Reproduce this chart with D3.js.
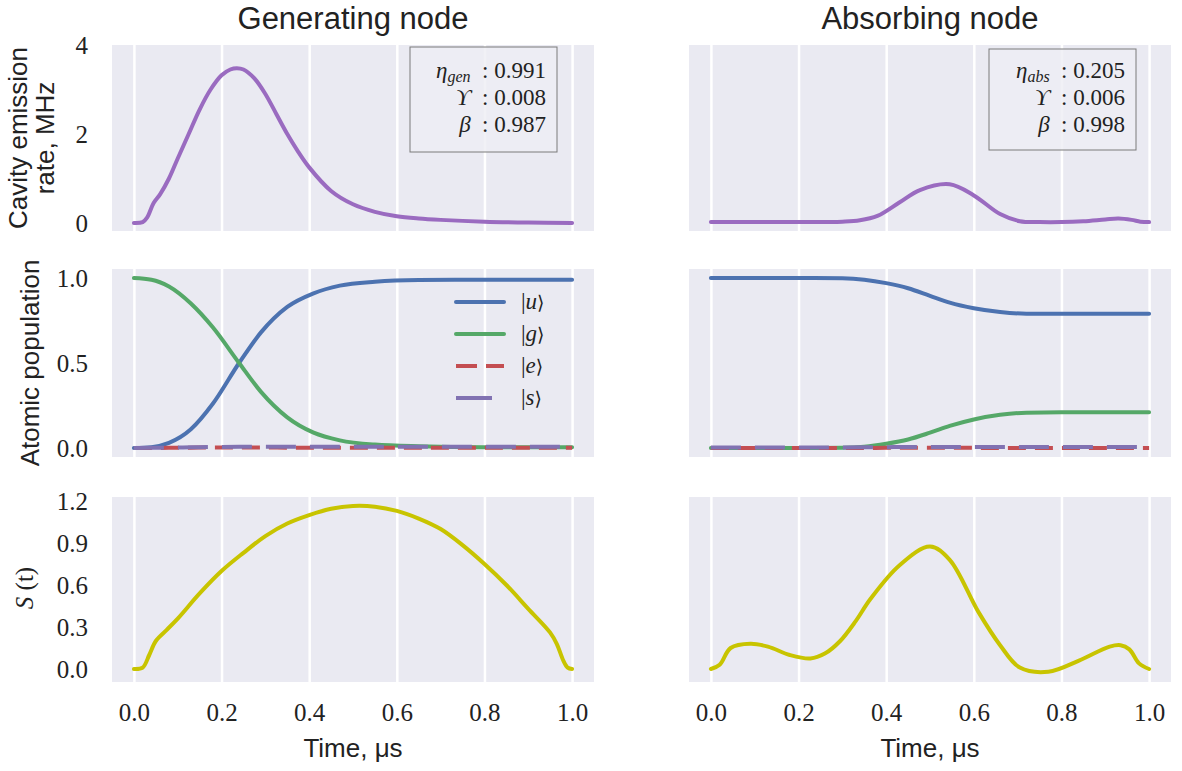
<!DOCTYPE html>
<html><head><meta charset="utf-8">
<script src="https://cdn.jsdelivr.net/npm/d3@7"></script>
<style>
body{margin:0;background:#fff;}
svg{display:block;}
</style></head><body>
<svg id="c" width="1182" height="771"></svg>
<script>
// ---------- data ----------
const xTicks = [0, 0.2, 0.4, 0.6, 0.8, 1.0];
const emisTicks = [0, 2, 4];
const popTicks = [0, 0.5, 1.0];
const sTicks = [0, 0.3, 0.6, 0.9, 1.2];

const genEmisT = [0, 0.02, 0.03, 0.045, 0.06, 0.08, 0.1, 0.125, 0.15, 0.175, 0.2, 0.22, 0.235, 0.25, 0.275, 0.3, 0.325, 0.35, 0.375, 0.4, 0.45, 0.5, 0.55, 0.6, 0.65, 0.7, 0.8, 0.9, 1.0];
const genEmisV = [0, 0.02, 0.12, 0.45, 0.65, 1.0, 1.45, 2.0, 2.55, 3.0, 3.32, 3.45, 3.48, 3.45, 3.25, 2.9, 2.45, 2.0, 1.6, 1.25, 0.72, 0.42, 0.25, 0.15, 0.1, 0.07, 0.03, 0.01, 0.0];

const absEmisT = [0, 0.1, 0.2, 0.3, 0.34, 0.38, 0.43, 0.477, 0.545, 0.6, 0.66, 0.705, 0.75, 0.8, 0.85, 0.9, 0.93, 0.96, 0.98, 1.0];
const absEmisV = [0.02, 0.02, 0.02, 0.03, 0.06, 0.16, 0.46, 0.74, 0.87, 0.62, 0.2, 0.04, 0.02, 0.02, 0.04, 0.08, 0.1, 0.07, 0.03, 0.02];

const genPopT = [0, 0.04, 0.08, 0.13, 0.18, 0.24, 0.29, 0.35, 0.41, 0.47, 0.55, 0.65, 0.8, 1.0];
const genU = [0, 0.005, 0.03, 0.11, 0.26, 0.5, 0.68, 0.83, 0.91, 0.955, 0.978, 0.988, 0.99, 0.99];
const genG = [1.0, 0.99, 0.95, 0.85, 0.71, 0.5, 0.33, 0.18, 0.09, 0.045, 0.02, 0.01, 0.005, 0.005];
const genE = [0, 0, 0.001, 0.002, 0.003, 0.003, 0.003, 0.002, 0.002, 0.001, 0.001, 0.001, 0.001, 0.001];
const genS = [0, 0.001, 0.002, 0.004, 0.006, 0.007, 0.008, 0.008, 0.008, 0.008, 0.008, 0.008, 0.008, 0.008];

const absPopT = [0, 0.1, 0.2, 0.3, 0.35, 0.4, 0.45, 0.5, 0.545, 0.6, 0.66, 0.72, 0.8, 0.9, 1.0];
const absU = [1.0, 1.0, 1.0, 0.998, 0.99, 0.97, 0.94, 0.895, 0.855, 0.822, 0.80, 0.79, 0.79, 0.79, 0.79];
const absG = [0, 0, 0, 0.002, 0.008, 0.025, 0.05, 0.09, 0.13, 0.168, 0.195, 0.208, 0.21, 0.21, 0.21];
const absE = [0, 0, 0, 0, 0, 0.001, 0.001, 0.002, 0.002, 0.001, 0, 0, 0, 0, 0];
const absS = [0.003, 0.003, 0.003, 0.003, 0.004, 0.005, 0.006, 0.006, 0.006, 0.006, 0.006, 0.006, 0.006, 0.006, 0.006];

const genSigT = [0, 0.02, 0.035, 0.05, 0.075, 0.1, 0.15, 0.2, 0.25, 0.3, 0.35, 0.4, 0.45, 0.5, 0.55, 0.6, 0.65, 0.7, 0.75, 0.8, 0.85, 0.9, 0.95, 0.965, 0.98, 0.99, 1.0];
const genSigV = [0, 0.01, 0.1, 0.2, 0.28, 0.36, 0.54, 0.70, 0.83, 0.95, 1.04, 1.10, 1.145, 1.165, 1.16, 1.13, 1.075, 1.0, 0.885, 0.75, 0.6, 0.43, 0.26, 0.18, 0.06, 0.01, 0.0];

const absSigT = [0, 0.02, 0.045, 0.09, 0.13, 0.18, 0.227, 0.26, 0.295, 0.33, 0.364, 0.43, 0.5, 0.545, 0.61, 0.66, 0.705, 0.77, 0.84, 0.91, 0.935, 0.955, 0.977, 1.0];
const absSigV = [0, 0.03, 0.15, 0.18, 0.16, 0.10, 0.075, 0.11, 0.2, 0.34, 0.5, 0.74, 0.875, 0.78, 0.41, 0.17, 0.01, -0.02, 0.06, 0.16, 0.17, 0.14, 0.04, 0.0];

const legendLabels = ["u", "g", "e", "s"];
const annGen = [["η", "gen", "0.991"], ["ϒ", "", "0.008"], ["β", "", "0.987"]];
const annAbs = [["η", "abs", "0.205"], ["ϒ", "", "0.006"], ["β", "", "0.998"]];

// ---------- styling ----------
const C = {bg: "#EAEAF2", u: "#4C72B0", g: "#55A868", e: "#C44E52", s: "#8172B2", emis: "#9A6BC0", sig: "#C8C400"};
const SERIF = "'Liberation Serif', Tinos, 'Times New Roman', 'DejaVu Serif', serif";
const SANS = "'Liberation Sans', Arimo, Arial, sans-serif";

const svg = d3.select("#c");
const cols = [{x0: 112, x1: 594}, {x0: 689, x1: 1171}];
const rows = [
  {y0: 45, y1: 231, dom: [-0.18, 4], ticks: emisTicks, fmt: d3.format("d")},
  {y0: 269, y1: 457, dom: [-0.053, 1.053], ticks: popTicks, fmt: d3.format(".1f")},
  {y0: 497, y1: 682, dom: [-0.093, 1.229], ticks: sTicks, fmt: d3.format(".1f")}
];

function panel(ci, ri) {
  const c = cols[ci], r = rows[ri];
  const x = d3.scaleLinear().domain([-0.05, 1.05]).range([c.x0, c.x1]);
  const y = d3.scaleLinear().domain(r.dom).range([r.y1, r.y0]);
  const g = svg.append("g");
  g.append("rect").attr("x", c.x0).attr("y", r.y0).attr("width", c.x1 - c.x0).attr("height", r.y1 - r.y0).attr("fill", C.bg);
  const clipId = "clip" + ci + ri;
  svg.append("clipPath").attr("id", clipId).append("rect").attr("x", c.x0).attr("y", r.y0).attr("width", c.x1 - c.x0).attr("height", r.y1 - r.y0);
  const gx = g.append("g").attr("transform", `translate(0,${r.y1})`)
    .call(d3.axisBottom(x).tickValues(xTicks).tickSize(-(r.y1 - r.y0)).tickFormat(ri === 2 ? d3.format(".1f") : ""));
  gx.attr("font-family", null).attr("font-size", null);
  gx.select(".domain").remove();
  gx.selectAll(".tick line").attr("stroke", "#fff").attr("stroke-width", 2.5);
  gx.selectAll(".tick text").style("font-family", SERIF).style("font-size", "25px").attr("fill", "#222").attr("y", 0).attr("dy", 39);
  const gy = g.append("g").attr("transform", `translate(${c.x0},0)`)
    .call(d3.axisLeft(y).tickValues(r.ticks).tickSize(-(c.x1 - c.x0)).tickFormat(ci === 0 ? r.fmt : ""));
  gy.attr("font-family", null).attr("font-size", null);
  gy.select(".domain").remove();
  gy.selectAll(".tick line").attr("stroke", "#fff").attr("stroke-width", 2.5).attr("clip-path", `url(#${clipId})`);
  gy.selectAll(".tick text").style("font-family", SERIF).style("font-size", "25px").attr("fill", "#222").attr("x", -24).attr("dy", "0.33em");
  const plot = g.append("g");
  return {x, y, g: plot};
}

function line(p, T, V, color, dash, smooth) {
  const gen = d3.line().x((d, i) => p.x(T[i])).y(d => p.y(d))
    .curve(smooth ? d3.curveCatmullRom.alpha(0.5) : d3.curveMonotoneX);
  p.g.append("path").attr("d", gen(V)).attr("fill", "none").attr("stroke", color)
    .attr("stroke-width", 4).attr("stroke-linecap", dash ? "butt" : "round").attr("stroke-linejoin", "round")
    .attr("stroke-dasharray", dash || null);
}

// Row 1
const p00 = panel(0, 0); line(p00, genEmisT, genEmisV, C.emis, null, true);
const p10 = panel(1, 0); line(p10, absEmisT, absEmisV, C.emis, null, true);
// Row 2
const p01 = panel(0, 1);
line(p01, genPopT, genU, C.u); line(p01, genPopT, genG, C.g);
line(p01, genPopT, genE, C.e, "18,9"); line(p01, genPopT, genS, C.s, "30,14");
const p11 = panel(1, 1);
line(p11, absPopT, absU, C.u); line(p11, absPopT, absG, C.g);
line(p11, absPopT, absE, C.e, "18,9"); line(p11, absPopT, absS, C.s, "30,14");
// Row 3
const p02 = panel(0, 2); line(p02, genSigT, genSigV, C.sig, null, true);
const p12 = panel(1, 2); line(p12, absSigT, absSigV, C.sig, null, true);

// Legend
const legColors = [C.u, C.g, C.e, C.s];
const legDash = [null, null, "21,9", "36,14"];
legendLabels.forEach((lab, i) => {
  const yy = 302 + i * 32;
  svg.append("line").attr("x1", 456).attr("x2", 504).attr("y1", yy).attr("y2", yy)
    .attr("stroke", legColors[i]).attr("stroke-width", 4)
    .attr("stroke-linecap", legDash[i] ? "butt" : "round").attr("stroke-dasharray", legDash[i]);
  const t = svg.append("text").attr("x", 521).attr("y", yy + 7).style("font-family", SERIF).style("font-size", "23px").attr("fill", "#222");
  t.append("tspan").text("|");
  t.append("tspan").attr("font-style", "italic").text(lab);
  t.append("tspan").style("font-family", "'DejaVu Serif', serif").style("font-size", "19px").text("\u27E9");
});

// Annotation boxes
function annBox(x0, y0, w, h, rowsA, top) {
  svg.append("rect").attr("x", x0).attr("y", y0).attr("width", w).attr("height", h)
    .attr("fill", "#EEEEF4").attr("fill-opacity", 0.8).attr("stroke", "#7a7a7a").attr("stroke-width", 1);
  rowsA.forEach((r, i) => {
    const t = svg.append("text").attr("x", x0 + w - 11).attr("y", y0 + top + i * 27)
      .attr("text-anchor", "end").style("font-family", SERIF).style("font-size", "23px").attr("fill", "#222");
    t.append("tspan").attr("font-style", "italic").text(r[0]);
    if (r[1]) t.append("tspan").attr("font-style", "italic").style("font-size", "16px").attr("dy", 4).text(r[1]);
    t.append("tspan").attr("dy", r[1] ? -4 : 0).text("\u2002: " + r[2]);
  });
}
annBox(410, 47, 147, 105, annGen, 31);
annBox(989, 49, 147, 101, annAbs, 29);

// Titles
svg.append("text").attr("x", 353).attr("y", 29).attr("text-anchor", "middle").style("font-family", SANS).style("font-size", "31px").attr("fill", "#222").text("Generating node");
svg.append("text").attr("x", 930).attr("y", 29).attr("text-anchor", "middle").style("font-family", SANS).style("font-size", "31px").attr("fill", "#222").text("Absorbing node");
// X labels
[353, 930].forEach(cx => svg.append("text").attr("x", cx).attr("y", 757).attr("text-anchor", "middle").style("font-family", SANS).style("font-size", "26px").attr("fill", "#222").text("Time, μs"));
// Y labels
function ylab(cx, cy, txt) {
  svg.append("text").attr("transform", `translate(${cx},${cy}) rotate(-90)`).attr("text-anchor", "middle")
    .style("font-family", SANS).style("font-size", "26px").attr("fill", "#222").text(txt);
}
ylab(27, 138, "Cavity emission");
ylab(54, 138, "rate, MHz");
ylab(39, 363, "Atomic population");
const sl = svg.append("text").attr("transform", "translate(33,588) rotate(-90)").attr("text-anchor", "middle")
  .style("font-family", SERIF).style("font-size", "25px").attr("fill", "#222");
sl.append("tspan").attr("font-style", "italic").text("S");
sl.append("tspan").text(" (t)");
</script>
</body></html>
